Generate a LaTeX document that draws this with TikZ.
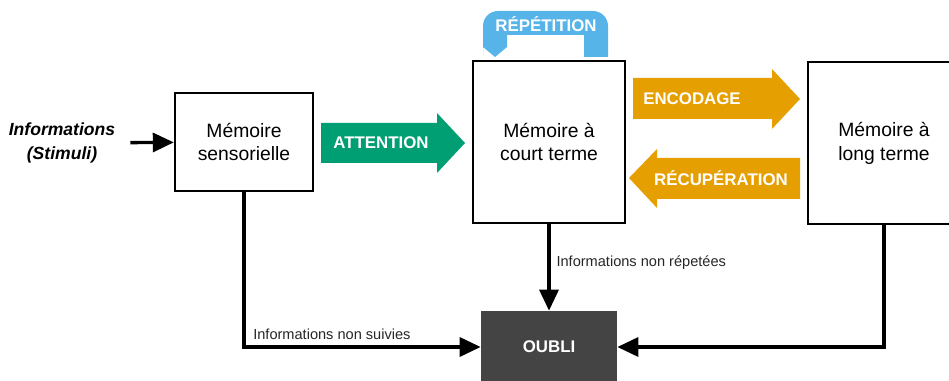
\documentclass[tikz,border=0pt]{standalone}
\usepackage{fontspec}
\setmainfont{Liberation Sans}
\usepackage{tikz}
\usetikzlibrary{arrows.meta,positioning}
\definecolor{attcol}{HTML}{009E73}
\definecolor{enccol}{HTML}{E69F00}
\definecolor{repcol}{HTML}{56B4E9}
\definecolor{oublicol}{HTML}{444444}

\begin{document}
\begin{tikzpicture}[x=0.02cm,y=-0.02cm,
  memoire/.style={draw,line width=1.4pt,align=center,fill=white,
    font=\fontsize{11}{13.6}\selectfont},
  flux/.style={line width=1.9pt,-{Triangle[length=0.42cm,width=0.38cm]}},
  bande/.style={font=\bfseries\fontsize{9.6}{11}\selectfont,text=white},
  petit/.style={font=\fontsize{8.3}{10}\selectfont,text=black!85}]
\useasboundingbox (0,0) rectangle (949,381);
% memoires
\node[align=center,font=\bfseries\itshape\fontsize{10}{13.6}\selectfont] (info) at (62,143) {Informations\\(Stimuli)};
\node[memoire,minimum width=2.76cm,minimum height=1.96cm] (sens) at (244,142) {Mémoire\\sensorielle};
\node[memoire,minimum width=3.04cm,minimum height=3.24cm] (court) at (549,142) {Mémoire à\\court terme};
\node[memoire,minimum width=3.04cm,minimum height=3.24cm] (long) at (884,143) {Mémoire à\\long terme};
\node[fill=oublicol,minimum width=2.72cm,minimum height=1.44cm,
  font=\bfseries\fontsize{9.6}{11}\selectfont,text=white] (oubli) at (549,347) {OUBLI};
% fleches pleines
\fill[attcol] (321,123) -- (437,123) -- (437,113) -- (465,143) -- (437,173) -- (437,163) -- (321,163) -- cycle;
\node[bande] (att) at (381,143) {ATTENTION};
\fill[enccol] (633,78) -- (772,78) -- (772,69) -- (800,99) -- (772,129) -- (772,119) -- (633,119) -- cycle;
\node[bande] (enc) at (692,99) {ENCODAGE};
\fill[enccol] (800,158) -- (657,158) -- (657,149) -- (629,178) -- (657,208) -- (657,199) -- (800,199) -- cycle;
\node[bande] (recup) at (721,178) {RÉCUPÉRATION};
\fill[repcol] (608,57) -- (608,40) [rounded corners=0.3cm] -- (608,11) -- (483,11) -- (483,40)
  [sharp corners] -- (483,47) -- (495,57) -- (507,47) -- (507,35) -- (584,35) -- (584,57) -- cycle;
\node[bande] (rep) at (546,24) {RÉPÉTITION};
% connexions
\draw[flux,shorten <=0.18cm] (info) -- (sens);
\draw[flux] (sens.south) |- node[petit,pos=0.5,anchor=south west,xshift=1pt] {Informations non suivies} (oubli.west);
\draw[flux] (court.south) -- node[petit,pos=0.45,right] {Informations non répetées} (oubli.north);
\draw[flux] (long.south) |- (oubli.east);
\end{tikzpicture}
\end{document}
